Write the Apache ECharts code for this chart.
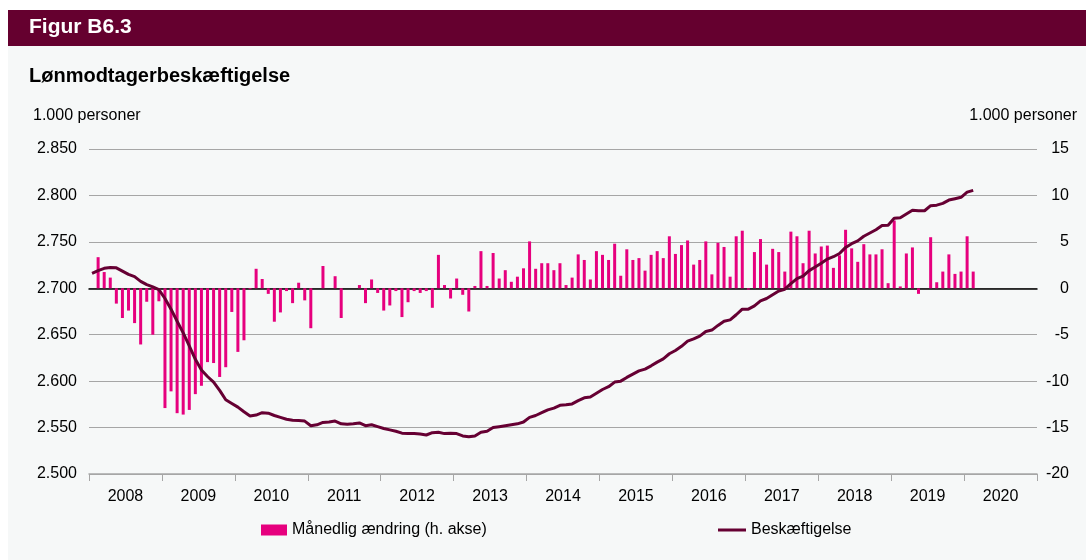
<!DOCTYPE html>
<html>
<head>
<meta charset="utf-8">
<script src="https://cdn.jsdelivr.net/npm/echarts@6.0.0/dist/echarts.min.js"></script>
<style>
  html, body { margin: 0; padding: 0; background: #ffffff; }
  #chart { width: 1086px; height: 560px; }
</style>
</head>
<body>
<div id="chart"></div>
<script>
// år på x-aksen
const years = ['2008', '2009', '2010', '2011', '2012', '2013', '2014', '2015', '2016', '2017', '2018', '2019', '2020'];

// månedlig ændring, 1.000 personer (h. akse), jan 2008 - feb 2020
const monthlyChange = [
  null, 3.35, 1.75, 1.15, -1.65, -3.2, -2.4, -3.75, -6.05, -1.45, -5.0, -1.4,
  -12.9, -11.1, -13.45, -13.6, -13.1, -11.4, -10.5, -7.95, -8.05, -9.55, -8.5, -2.55,
  -6.85, -5.6, -0.1, 2.1, 1.0, -0.6, -3.6, -2.6, -0.3, -1.6, 0.6, -1.3,
  -4.3, 0, 2.4, 0, 1.3, -3.2, 0, 0, 0.35, -1.6, 0.95, -0.5,
  -2.4, -1.85, -0.3, -3.1, -1.5, -0.3, -0.5, -0.3, -2.1, 3.6, 0.35, -1.1,
  1.05, -0.7, -2.5, 0.25, 4.0, 0.25, 3.8, 1.05, 1.95, 0.7, 1.25, 2.15,
  5.05, 2.1, 2.7, 2.7, 1.95, 2.7, 0.35, 1.15, 3.65, 3.05, 0.95, 4.0,
  3.6, 3.05, 4.8, 1.35, 4.2, 3.05, 3.25, 1.9, 3.6, 4.0, 3.25, 5.6,
  3.7, 4.65, 5.15, 2.55, 3.05, 5.05, 1.5, 4.9, 4.45, 1.25, 5.6, 6.2,
  -0.15, 3.9, 5.3, 2.55, 4.25, 3.9, 1.8, 6.1, 5.6, 2.7, 6.2, 3.75,
  4.5, 4.6, 2.2, 3.55, 6.3, 4.3, 2.85, 4.75, 3.65, 3.65, 4.2, 0.55,
  7.3, 0.2, 3.75, 4.4, -0.6, 0, 5.5, 0.65, 1.8, 3.65, 1.55, 1.8,
  5.6, 1.8
];

// lønmodtagerbeskæftigelse, 1.000 personer
const employment = [
  2716, 2719, 2721.5, 2722.5, 2722, 2718.5, 2715, 2712.5, 2707.5, 2704, 2701.5, 2698.5,
  2689, 2677.5, 2664.5, 2652, 2638, 2623.5, 2612, 2605, 2599, 2590, 2580, 2576,
  2572, 2567, 2562.5, 2563.5, 2566, 2565.5, 2563, 2561, 2559, 2558, 2557.5, 2557,
  2552, 2553, 2555.5, 2556, 2557, 2554, 2553.5, 2554, 2555, 2552, 2553, 2551,
  2549, 2547.5, 2546, 2544, 2543.5, 2543.5, 2543, 2542, 2544.5, 2545, 2543.5, 2544,
  2543.5, 2541, 2540, 2541, 2545, 2546, 2550, 2551, 2552, 2553, 2554, 2556,
  2561, 2563, 2566, 2569, 2571, 2574, 2574.5, 2575.5, 2579, 2582, 2583, 2587,
  2591, 2594, 2599, 2600, 2604, 2607.5, 2611, 2613, 2616.5, 2620.5, 2624, 2629.5,
  2633, 2637.5, 2643, 2645.5, 2648.5, 2653.5, 2655, 2660, 2664.5, 2666, 2671.5, 2677.5,
  2677.5, 2681, 2686.5, 2689, 2693, 2697, 2699, 2705, 2710.5, 2713, 2719, 2723,
  2727, 2731.5, 2734, 2737.5, 2744, 2748, 2751, 2756, 2759.5, 2763, 2767.5, 2768,
  2775.5, 2776, 2780, 2784, 2783.5, 2783.5, 2789, 2789.5, 2791.5, 2795, 2796.5, 2798,
  2803.5, 2805.5
];

// månedskategorier (skjult akse)
const months = [];
years.forEach(y => { for (let m = 1; m <= 12; m++) months.push(y + '-' + (m < 10 ? '0' + m : m)); });

const FONT = '"Liberation Sans", Arial, sans-serif';
const chart = echarts.init(document.getElementById('chart'));

const option = {
  backgroundColor: '#ffffff',
  animation: false,
  textStyle: { fontFamily: FONT },
  graphic: [
    { type: 'rect', z: -10, shape: { x: 8, y: 46, width: 1078, height: 514 }, style: { fill: '#f6f8f8' } },
    { type: 'rect', shape: { x: 8, y: 10, width: 1078, height: 36 }, style: { fill: '#65002f' } },
    { type: 'text', left: 29, top: 17, style: { text: 'Figur B6.3', fill: '#ffffff', font: 'bold 21px ' + FONT } },
    { type: 'text', left: 29, top: 66, style: { text: 'Lønmodtagerbeskæftigelse', fill: '#000000', font: 'bold 20px ' + FONT } },
    { type: 'text', left: 33, top: 108, style: { text: '1.000 personer', fill: '#000000', font: '16px ' + FONT } },
    { type: 'text', right: 9, top: 108, style: { text: '1.000 personer', fill: '#000000', font: '16px ' + FONT } }
  ],
  legend: [
    {
      data: ['Månedlig ændring (h. akse)'],
      left: 261, top: 522, padding: 0,
      icon: 'rect', itemWidth: 26, itemHeight: 11,
      textStyle: { fontSize: 16, color: '#000', fontFamily: FONT }
    },
    {
      data: ['Beskæftigelse'],
      left: 718, top: 522, padding: 0,
      icon: 'rect', itemWidth: 28, itemHeight: 3,
      textStyle: { fontSize: 16, color: '#000', fontFamily: FONT }
    }
  ],
  grid: { left: 89, right: 49, top: 149, bottom: 86, containLabel: false },
  xAxis: [
    {
      type: 'category',
      data: years,
      boundaryGap: true,
      axisLine: { onZero: false, lineStyle: { color: '#a6a6a6', width: 1.5 } },
      axisTick: { show: true, length: 7, lineStyle: { color: '#a6a6a6' } },
      axisLabel: { color: '#000', fontSize: 16, margin: 15, fontFamily: FONT },
      splitLine: { show: false }
    },
    {
      type: 'category',
      data: months,
      boundaryGap: true,
      position: 'bottom',
      axisLine: { show: true, onZero: true, onZeroAxisIndex: 1, lineStyle: { color: '#000', width: 1.5 } },
      axisTick: { show: false },
      axisLabel: { show: false },
      splitLine: { show: false }
    }
  ],
  yAxis: [
    {
      type: 'value',
      min: 2500, max: 2850, interval: 50,
      axisLine: { show: false },
      axisTick: { show: false },
      axisLabel: {
        color: '#000', fontSize: 16, margin: 12, fontFamily: FONT,
        formatter: v => (v / 1000).toFixed(3)
      },
      splitLine: { lineStyle: { color: '#a6a6a6', width: 1 } }
    },
    {
      type: 'value',
      min: -20, max: 15, interval: 5,
      position: 'right',
      axisLine: { show: false },
      axisTick: { show: false },
      axisLabel: { color: '#000', fontSize: 16, margin: 32, align: 'right', fontFamily: FONT },
      splitLine: { show: false }
    }
  ],
  series: [
    {
      name: 'Månedlig ændring (h. akse)',
      type: 'bar',
      xAxisIndex: 1,
      yAxisIndex: 1,
      data: monthlyChange,
      barWidth: 3,
      itemStyle: { color: '#e6007e' },
      z: 2
    },
    {
      name: 'Beskæftigelse',
      type: 'line',
      xAxisIndex: 1,
      yAxisIndex: 0,
      data: employment,
      showSymbol: false,
      symbol: 'none',
      lineStyle: { color: '#660033', width: 3 },
      itemStyle: { color: '#660033' },
      z: 3
    }
  ]
};

chart.setOption(option);
</script>
</body>
</html>
